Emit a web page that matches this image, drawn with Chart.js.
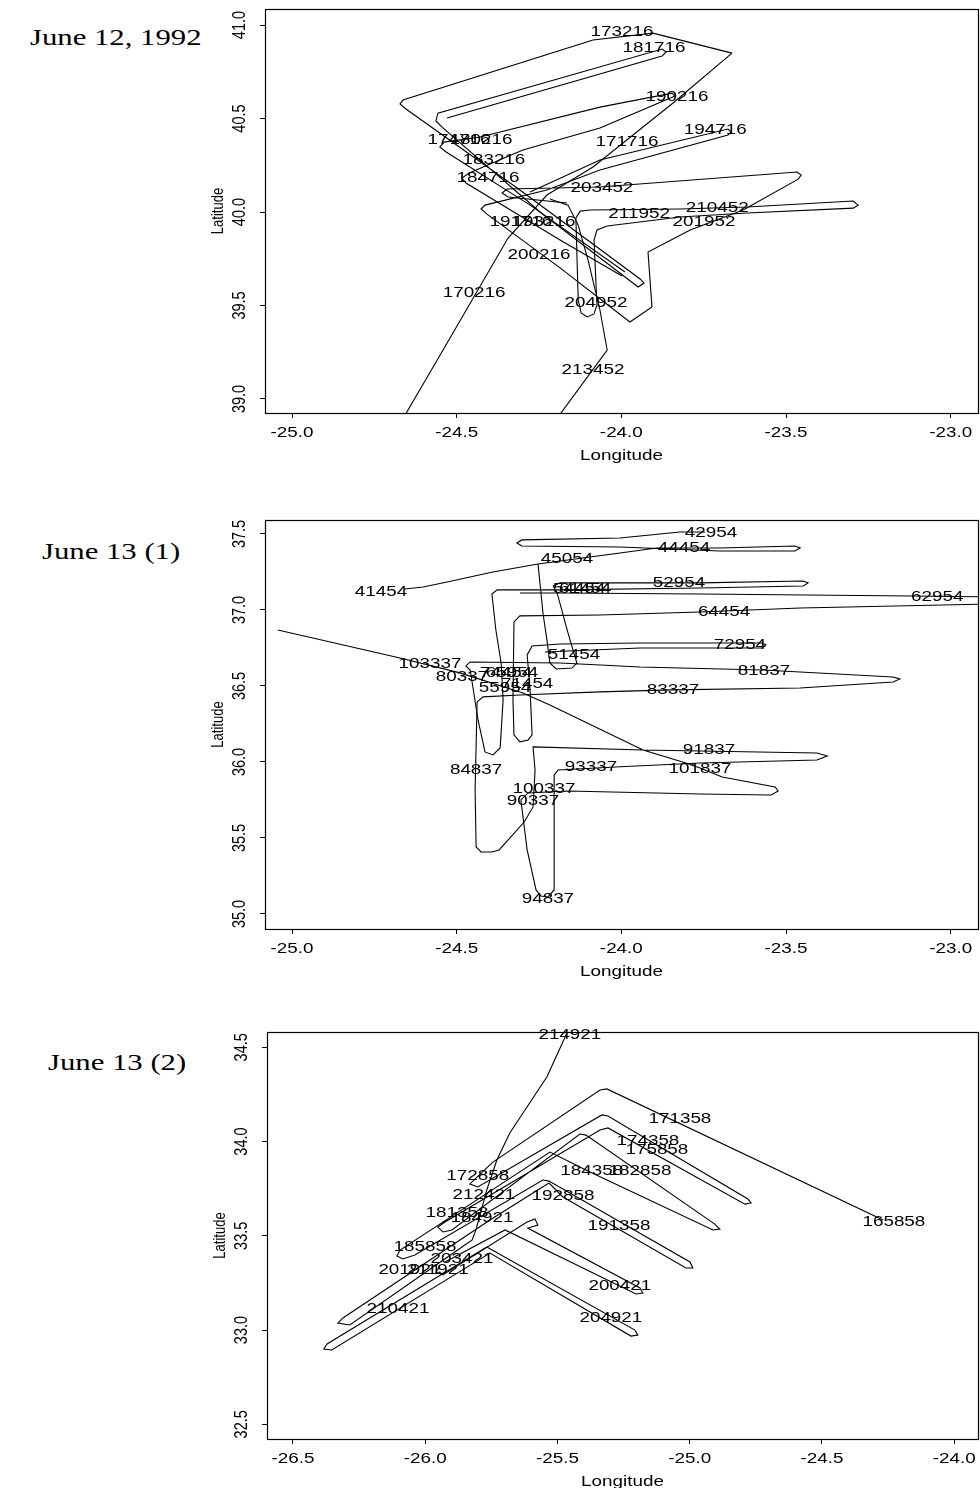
<!DOCTYPE html>
<html>
<head>
<meta charset="utf-8">
<script src="https://cdn.jsdelivr.net/npm/chart.js@4.4.1/dist/chart.umd.min.js"></script>
<style>
body { margin: 0; background: #fff; width: 980px; height: 1488px; position: relative; overflow: hidden; }
canvas { position: absolute; left: 0; }
.ttl { position: absolute; font-family: "Liberation Serif", "DejaVu Serif", serif; font-size: 24px; line-height: 24px;
       transform-origin: 0 0; transform: scaleX(1.28); white-space: nowrap; color: #000; }
</style>
</head>
<body>
<div class="ttl" style="left:30px;top:25px">June 12, 1992</div>
<div class="ttl" style="left:42px;top:539px">June 13 (1)</div>
<div class="ttl" style="left:48px;top:1050px">June 13 (2)</div>
<canvas id="p1" width="980" height="480" style="top:0"></canvas>
<canvas id="p2" width="980" height="500" style="top:480px"></canvas>
<canvas id="p3" width="980" height="508" style="top:980px"></canvas>
<script>
var INK = '#000';

// ---- June 12, 1992 : tracks as [longitude, latitude] ----
var jun12Leg = [[-24.660,38.904],[-24.529,39.299],[-24.344,39.861],[-24.226,40.091],[-24.086,40.241],[-23.843,40.583],[-23.664,40.850]];
var jun12Top = [[-23.664,40.850],[-23.904,40.957],[-24.086,40.920],[-24.663,40.599],[-24.672,40.578],[-24.654,40.551],[-24.308,40.118],
  [-23.943,39.642],[-23.931,39.620],[-23.949,39.599],[-24.247,40.000],[-24.541,40.449],[-24.563,40.487],[-24.557,40.529],
  [-23.876,40.872],[-23.864,40.856],[-23.876,40.834],[-24.529,40.503]];
var jun12Mid = [[-23.989,39.679],[-24.277,40.037],[-24.532,40.321],[-24.551,40.348],[-24.538,40.374],[-24.429,40.401],[-24.065,40.561],
  [-23.846,40.636],[-23.837,40.620],[-24.065,40.449],[-24.299,40.332],[-24.462,40.209],[-24.484,40.182],[-24.472,40.155],
  [-24.186,39.850],[-23.998,39.658]];
var jun12East = [[-24.165,40.048],[-24.344,40.080],[-24.362,40.102],[-24.347,40.123],[-24.065,40.134],[-23.466,40.214],[-23.454,40.198],
  [-23.463,40.176],[-23.630,40.011],[-23.791,39.904],[-23.919,39.786],[-23.907,39.492],[-23.974,39.412],[-24.186,39.701],
  [-24.408,39.989],[-24.426,40.016],[-24.414,40.037],[-24.226,40.118],[-24.065,40.225],[-23.676,40.412],[-23.667,40.428],
  [-23.676,40.444],[-24.065,40.278],[-24.277,40.107]];
var jun12South = [[-24.192,38.904],[-24.043,39.262],[-24.065,39.476],[-24.101,39.743],[-24.131,39.930],[-24.162,40.037],[-24.217,40.070]];
var jun12Loop = [[-24.125,40.005],[-24.138,39.968],[-24.131,39.529],[-24.122,39.460],[-24.104,39.439],[-24.083,39.455],[-24.074,39.503],
  [-24.083,39.850],[-24.074,39.904],[-24.043,39.925],[-23.822,39.973],[-23.618,39.995],[-23.296,40.021],[-23.281,40.037],
  [-23.296,40.059],[-23.618,40.027],[-23.822,40.016],[-24.095,40.011],[-24.125,40.005]];
var jun12Times = [['170216',-24.447,39.567],['171716',-23.983,40.374],['173216',-23.998,40.963],['174716',-24.493,40.385],
  ['180216',-24.426,40.385],['181716',-23.901,40.877],['183216',-24.387,40.278],['184716',-24.405,40.182],['190216',-23.831,40.615],
  ['191716',-24.305,39.947],['193216',-24.235,39.947],['194716',-23.715,40.439],['200216',-24.250,39.770],['201952',-23.749,39.947],
  ['203452',-24.059,40.128],['204952',-24.077,39.513],['210452',-23.709,40.021],['211952',-23.946,39.989],['213452',-24.086,39.155]];
var jun12XTicks = [-25.0, -24.5, -24.0, -23.5, -23.0];
var jun12YTicks = [39.0, 39.5, 40.0, 40.5, 41.0];

// ---- June 13 (1) ----
var jun13aNorth = [[-24.657,37.138],[-24.602,37.151],[-24.529,37.184],[-24.390,37.250],[-24.253,37.303],[-24.004,37.375],[-23.892,37.408],
  [-23.700,37.408],[-23.473,37.421],[-23.457,37.408],[-23.473,37.388],[-23.700,37.388],[-24.004,37.414],[-24.302,37.421],
  [-24.317,37.441],[-24.302,37.461],[-24.004,37.474],[-23.822,37.513],[-23.746,37.513]];
var jun13aBox = [[-24.253,37.303],[-24.238,36.980],[-24.226,36.803],[-24.217,36.651],[-24.198,36.612],[-24.150,36.618],[-24.135,36.651],
  [-24.162,36.849],[-24.195,37.112],[-24.207,37.158],[-24.186,37.178],[-23.761,37.178],[-23.448,37.191],[-23.433,37.178],
  [-23.448,37.158],[-23.761,37.145],[-24.186,37.132],[-24.377,37.132],[-24.393,37.105],[-24.381,36.868],[-24.365,36.651],
  [-24.359,36.408],[-24.368,36.092],[-24.390,36.046],[-24.414,36.066],[-24.435,36.276],[-24.459,36.605],[-24.472,36.632],
  [-24.459,36.658],[-24.186,36.651],[-23.943,36.625],[-23.570,36.605],[-23.175,36.559],[-23.154,36.546],[-23.175,36.526],
  [-23.457,36.487],[-23.846,36.474],[-24.065,36.461],[-24.308,36.441],[-24.420,36.428],[-24.438,36.395]];
var jun13aSouth = [[-24.438,36.395],[-24.444,35.816],[-24.441,35.441],[-24.426,35.408],[-24.393,35.408],[-24.371,35.421],[-24.295,35.605],
  [-24.268,35.704],[-24.262,35.947],[-24.268,36.099],[-23.934,36.079],[-23.761,36.072],[-23.406,36.059],[-23.375,36.039],
  [-23.406,36.013],[-23.761,35.993],[-24.019,35.967],[-24.192,35.947],[-24.204,35.914],[-24.204,35.158],[-24.223,35.112],
  [-24.244,35.118],[-24.259,35.158],[-24.286,35.421],[-24.305,35.750],[-24.283,35.796],[-24.162,35.809],[-23.761,35.789],
  [-23.545,35.783],[-23.524,35.809],[-23.533,35.836],[-23.694,35.901],[-23.761,35.961],[-23.804,35.993],[-23.934,36.079],
  [-24.217,36.375],[-24.299,36.454],[-24.490,36.586],[-24.672,36.684],[-25.043,36.868]];
var jun13aFar = [[-22.896,37.086],[-23.117,37.092],[-23.761,37.105],[-24.186,37.112],[-24.308,37.112]];
var jun13aLoop = [[-22.896,37.039],[-23.457,37.013],[-23.761,36.987],[-24.065,36.967],[-24.308,36.961],[-24.326,36.921],[-24.329,36.408],
  [-24.326,36.178],[-24.308,36.132],[-24.283,36.145],[-24.271,36.178],[-24.277,36.474],[-24.286,36.704],[-24.271,36.763],
  [-24.186,36.776],[-23.943,36.783],[-23.573,36.783],[-23.561,36.770],[-23.573,36.750],[-23.943,36.750],[-24.232,36.724]];
var jun13aTimes = [['41454',-24.730,37.118],['42954',-23.728,37.507],['44454',-23.810,37.408],['45054',-24.165,37.336],
  ['51454',-24.144,36.704],['52954',-23.825,37.178],['54454',-24.128,37.138],['61454',-24.110,37.138],['62954',-23.041,37.086],
  ['64454',-23.688,36.987],['65954',-24.332,36.586],['74454',-24.350,36.586],['71454',-24.286,36.513],['55954',-24.353,36.487],
  ['72954',-23.640,36.770],['80337',-24.484,36.559],['81837',-23.567,36.599],['83337',-23.843,36.474],['84837',-24.441,35.947],
  ['90337',-24.268,35.743],['91837',-23.734,36.079],['93337',-24.092,35.967],['94837',-24.223,35.099],['100337',-24.235,35.822],
  ['101837',-23.761,35.954],['103337',-24.581,36.645]];
var jun13aXTicks = [-25.0, -24.5, -24.0, -23.5, -23.0];
var jun13aYTicks = [35.0, 35.5, 36.0, 36.5, 37.0, 37.5];

// ---- June 13 (2) ----
var jun13bOuter = [[-24.269,33.584],[-25.313,34.279],[-25.339,34.273],[-25.744,33.891],[-25.808,33.806],[-25.831,33.775],[-25.801,33.759],
  [-25.332,34.141],[-25.309,34.135],[-24.780,33.695],[-24.768,33.674],[-24.791,33.668],[-25.309,34.072],[-25.339,34.061],
  [-25.925,33.573],[-25.952,33.546],[-25.933,33.520],[-25.899,33.531],[-25.415,34.040],[-25.392,34.034],[-24.905,33.562],
  [-24.886,33.536],[-24.912,33.531],[-25.385,33.844],[-25.528,33.944],[-26.095,33.424],[-26.107,33.393],[-26.084,33.377],
  [-26.039,33.398],[-25.555,33.796],[-25.532,33.790],[-24.999,33.361],[-24.988,33.329],[-25.014,33.329],[-25.479,33.706],
  [-25.532,33.780]];
var jun13bWest = [[-25.532,33.780],[-25.755,33.584],[-26.311,33.064],[-26.330,33.037],[-26.285,33.027],[-25.850,33.451],[-25.823,33.477],
  [-25.808,33.531],[-25.767,33.743],[-25.729,33.902],[-25.680,34.045],[-25.540,34.342],[-25.464,34.576],[-25.445,34.645]];
var jun13bInner = [[-25.944,33.340],[-25.959,33.308],[-25.933,33.292],[-25.615,33.573],[-25.585,33.589],[-25.574,33.557],[-25.612,33.541],
  [-25.188,33.223],[-25.177,33.196],[-25.203,33.191],[-25.698,33.531],[-25.925,33.361]];
var jun13bLow = [[-25.767,33.440],[-25.207,33.000],[-25.196,32.973],[-25.222,32.968],[-25.755,33.408],[-26.353,32.894],[-26.383,32.899],
  [-26.371,32.926],[-25.767,33.440]];
var jun13bTimes = [['165858',-24.228,33.573],['171358',-25.037,34.119],['172858',-25.801,33.817],['174358',-25.158,34.003],
  ['175858',-25.124,33.955],['181358',-25.880,33.621],['182858',-25.188,33.844],['184358',-25.370,33.844],['185858',-26.001,33.440],
  ['191358',-25.267,33.552],['192858',-25.479,33.711],['184921',-25.785,33.594],['211921',-25.952,33.318],['200421',-25.264,33.233],
  ['201921',-26.058,33.318],['203421',-25.861,33.377],['204921',-25.298,33.064],['210421',-26.103,33.111],['212421',-25.778,33.716],
  ['214921',-25.453,34.565]];
var jun13bXTicks = [-26.5, -26.0, -25.5, -25.0, -24.5, -24.0];
var jun13bYTicks = [32.5, 33.0, 33.5, 34.0, 34.5];

// text in the scan is stretched sideways
var SX = 1.3;
function wideText(ctx, txt, x, y, turn) {
  ctx.save();
  ctx.translate(x, y);
  ctx.scale(SX, 1);
  if (turn) ctx.rotate(-Math.PI / 2);
  ctx.fillText(txt, 0, 0);
  ctx.restore();
}

function framePlugin(xTicks, yTicks, times) {
  return {
    id: 'frame',
    afterDraw: function (chart) {
      var ctx = chart.ctx, a = chart.chartArea;
      var xs = chart.scales.x, ys = chart.scales.y;
      ctx.save();
      ctx.strokeStyle = INK;
      ctx.lineWidth = 1.2;
      ctx.strokeRect(Math.round(a.left) + 0.5, Math.round(a.top) + 0.5, a.right - a.left, a.bottom - a.top);
      ctx.fillStyle = INK;
      ctx.font = '14.5px "Liberation Sans", Arial, sans-serif';
      ctx.textAlign = 'center';
      ctx.textBaseline = 'middle';
      xTicks.forEach(function (v) { wideText(ctx, v.toFixed(1), xs.getPixelForValue(v), a.bottom + 20, false); });
      yTicks.forEach(function (v) { wideText(ctx, v.toFixed(1), a.left - 25, ys.getPixelForValue(v), true); });
      wideText(ctx, 'Longitude', (a.left + a.right) / 2, a.bottom + 43, false);
      ctx.font = '13px "Liberation Sans", Arial, sans-serif';
      wideText(ctx, 'Latitude', a.left - 47, (a.top + a.bottom) / 2, true);
      ctx.font = '14.5px "Liberation Sans", Arial, sans-serif';
      times.forEach(function (t) { wideText(ctx, t[0], xs.getPixelForValue(t[1]), ys.getPixelForValue(t[2]), false); });
      ctx.restore();
    }
  };
}

function buildPanel(id, tracks, times, xTicks, yTicks, area, xr, yr) {
  var sets = tracks.map(function (t) {
    return {
      data: t.map(function (p) { return { x: p[0], y: p[1] }; }),
      showLine: true, pointRadius: 0, borderColor: INK, borderWidth: 1.1, tension: 0, fill: false
    };
  });
  var axisGrid = { display: true, drawOnChartArea: false, drawTicks: true, tickLength: 5, color: INK, lineWidth: 1 };
  return new Chart(document.getElementById(id), {
    type: 'scatter',
    data: { datasets: sets },
    options: {
      responsive: false, animation: false, devicePixelRatio: 1, events: [],
      layout: { padding: { left: 0, top: area.top, right: area.w - area.right, bottom: 0 } },
      plugins: { legend: { display: false }, tooltip: { enabled: false } },
      scales: {
        x: {
          type: 'linear', position: 'bottom', min: xr[0], max: xr[1],
          afterBuildTicks: function (s) { s.ticks = xTicks.map(function (v) { return { value: v }; }); },
          afterFit: function (s) { s.height = area.h - area.bottom; },
          ticks: { display: false }, grid: axisGrid, border: { display: false }
        },
        y: {
          type: 'linear', position: 'left', min: yr[0], max: yr[1],
          afterBuildTicks: function (s) { s.ticks = yTicks.map(function (v) { return { value: v }; }); },
          afterFit: function (s) { s.width = area.left; },
          ticks: { display: false }, grid: axisGrid, border: { display: false }
        }
      }
    },
    plugins: [framePlugin(xTicks, yTicks, times)]
  });
}

buildPanel('p1', [jun12Leg, jun12Top, jun12Mid, jun12East, jun12South, jun12Loop], jun12Times, jun12XTicks, jun12YTicks,
  { w: 980, h: 480, left: 265, right: 978, top: 9, bottom: 413 }, [-25.082, -22.917], [38.925, 41.086]);
buildPanel('p2', [jun13aNorth, jun13aBox, jun13aSouth, jun13aFar, jun13aLoop], jun13aTimes, jun13aXTicks, jun13aYTicks,
  { w: 980, h: 500, left: 265, right: 978, top: 40, bottom: 449 }, [-25.082, -22.917], [34.901, 37.592]);
buildPanel('p3', [jun13bOuter, jun13bWest, jun13bInner, jun13bLow], jun13bTimes, jun13bXTicks, jun13bYTicks,
  { w: 980, h: 508, left: 267, right: 978, top: 52, bottom: 459 }, [-26.598, -23.910], [32.422, 34.581]);
</script>
</body>
</html>
